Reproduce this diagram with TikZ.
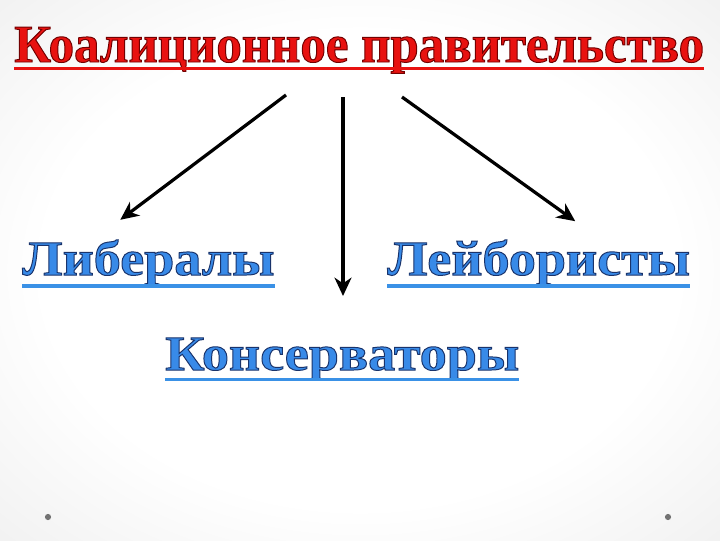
\documentclass[tikz,border=0pt]{standalone}
\usepackage{fontspec}
\setmainfont{Liberation Serif}
\newfontfamily\titlefont{Liberation Serif}[FakeStretch=0.952]
\newfontfamily\partyfont{Liberation Serif}[FakeStretch=1.1]
\usepackage{xcolor}
\usetikzlibrary{arrows.meta, positioning, calc}
\definecolor{titlered}{RGB}{232,18,16}
\definecolor{wordblue}{RGB}{56,138,232}
\definecolor{lineblue}{RGB}{58,145,230}
\newcommand{\outlined}[2]{\special{pdf:literal direct 2 Tr 0.7 w #1 RG}#2\special{pdf:literal direct 0 Tr}}
\pgfdeclareradialshading{slidebg}{\pgfpoint{0bp}{0bp}}{color(0bp)=(white); color(22bp)=(white); color(40bp)=(black!7); color(50bp)=(black!16); color(72bp)=(black!22)}
\tikzset{
    heading/.style={anchor=base west, inner sep=0pt, font=\titlefont\bfseries\fontsize{38}{42}\selectfont, text=titlered},
    party/.style={anchor=base west, inner sep=0pt, font=\partyfont\bfseries\fontsize{35}{40}\selectfont, text=wordblue},
    redline/.style={line width=2.2pt, titlered},
    blueline/.style={line width=2.2pt, lineblue},
    arr/.style={line width=2.3pt, -{Stealth[length=13pt, width=12pt, inset=4pt]}},
    dot/.style={fill=black!55}
}
\begin{document}
\begin{tikzpicture}[x=0.025cm, y=-0.025cm]
    % Background
    \shade[shading=slidebg] (0,0) rectangle (720,540);
    \useasboundingbox (0,0) rectangle (720,540);
    \fill[dot] (48,517) circle (2.2pt);
    \fill[dot] (668,517) circle (2.2pt);
    % Title
    \node[heading] (title) at (14,62) {\outlined{0.45 0 0}{Коалиционное правительство}};
    \draw[redline] ([yshift=-4.6pt]title.base west) -- ([yshift=-4.6pt]title.base east);
    % Parties
    \node[party] (lib) at (22,275) {\outlined{0.1 0.2 0.42}{Либералы}};
    \node[party] (lab) at (387,275) {\outlined{0.1 0.2 0.42}{Лейбористы}};
    \node[party] (con) at (165,370) {\outlined{0.1 0.2 0.42}{Консерваторы}};
    \draw[blueline] ([yshift=-7.8pt]lib.base west) -- ([yshift=-7.8pt]lib.base east);
    \draw[blueline] ([yshift=-7.8pt]lab.base west) -- ([yshift=-7.8pt]lab.base east);
    \draw[blueline] ([yshift=-6.6pt]con.base west) -- ([yshift=-6.6pt]con.base east);
    % Arrows
    \coordinate (s1) at (286,95);
    \coordinate (s2) at (343,97);
    \coordinate (s3) at (402,97);
    \coordinate (e1) at ([shift={(-20pt,14pt)}]lib.north);
    \coordinate (e2) at (343,296);
    \coordinate (e3) at ([shift={(26pt,13pt)}]lab.north);
    \draw[arr] (s1) -- (e1);
    \draw[arr] (s2) -- (e2);
    \draw[arr] (s3) -- (e3);
\end{tikzpicture}
\end{document}
